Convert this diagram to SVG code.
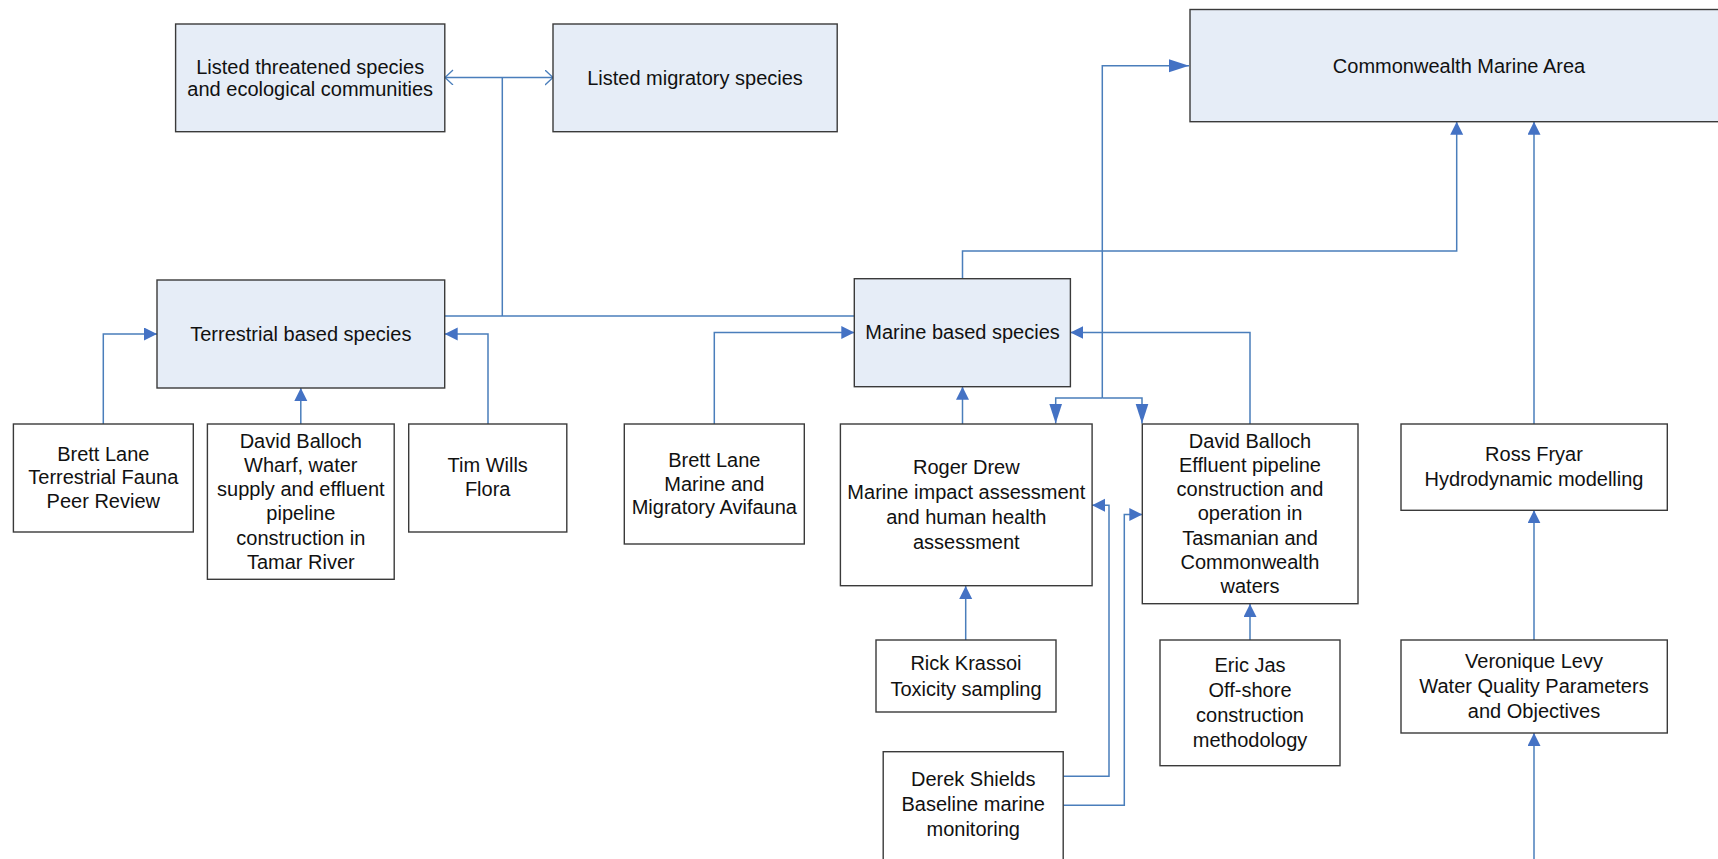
<svg xmlns="http://www.w3.org/2000/svg" width="1718" height="859" viewBox="0 0 1718 859">
<style>
.box{fill:#ffffff;stroke:#3a3a3a;stroke-width:1.4}
.hl{fill:#e6edf7;stroke:#3a3a3a;stroke-width:1.4}
text{font-family:"Liberation Sans",Arial,sans-serif;font-size:20px;fill:#111;text-anchor:middle}
.c{fill:none;stroke:#4a7ebb;stroke-width:1.5}
</style>
<defs>
<marker id="a" markerUnits="userSpaceOnUse" markerWidth="14" markerHeight="14" refX="13" refY="6.5" orient="auto"><path d="M0,0 L13,6.5 L0,13 z" fill="#4472c4"/></marker>
<marker id="b" markerUnits="userSpaceOnUse" markerWidth="21" markerHeight="14" refX="20" refY="6.5" orient="auto"><path d="M0,0 L20,6.5 L0,13 z" fill="#4472c4"/></marker>
<marker id="o" markerUnits="userSpaceOnUse" markerWidth="10" markerHeight="17" refX="8.5" refY="7.5" orient="auto-start-reverse"><path d="M0.5,0 L8.5,7.5 L0.5,15" fill="none" stroke="#4a7ebb" stroke-width="1.3"/></marker>
</defs>
<rect width="1718" height="859" fill="#ffffff"/>
<g id="connectors">
<path class="c" d="M445,77.5 H553" marker-start="url(#o)" marker-end="url(#o)"/>
<path class="c" d="M502.3,77.5 V316"/>
<path class="c" d="M444.7,316 H854.3"/>
<path class="c" d="M103.3,424 V334 H157" marker-end="url(#a)"/>
<path class="c" d="M488,424 V334 H444.7" marker-end="url(#a)"/>
<path class="c" d="M300.8,424 V388" marker-end="url(#a)"/>
<path class="c" d="M714.3,424 V332.5 H854.3" marker-end="url(#a)"/>
<path class="c" d="M962.5,424 V386.7" marker-end="url(#a)"/>
<path class="c" d="M962.5,278.7 V251 H1456.7 V121.7" marker-end="url(#a)"/>
<path class="c" d="M1102.3,398 V65.7 H1189" marker-end="url(#b)"/>
<path class="c" d="M1102.3,398 H1055.7 V423.5" marker-end="url(#b)"/>
<path class="c" d="M1102.3,398 H1142 V423.5" marker-end="url(#b)"/>
<path class="c" d="M1250,424 V332.5 H1070.4" marker-end="url(#a)"/>
<path class="c" d="M1250,640 V604" marker-end="url(#a)"/>
<path class="c" d="M965.7,640 V586" marker-end="url(#a)"/>
<path class="c" d="M1063.2,776.3 H1109 V505.3 H1092.1" marker-end="url(#a)"/>
<path class="c" d="M1063.2,805.3 H1124.3 V514.5 H1142.3" marker-end="url(#a)"/>
<path class="c" d="M1534,424 V121.7" marker-end="url(#a)"/>
<path class="c" d="M1534,640 V510.3" marker-end="url(#a)"/>
<path class="c" d="M1534,862 V733" marker-end="url(#a)"/>
</g>
<g id="threatened"><rect class="hl" x="175.6" y="24" width="269.2" height="107.7"/><text x="310.2" y="73.5">Listed threatened species</text><text x="310.2" y="96">and ecological communities</text></g>
<g id="migratory"><rect class="hl" x="553" y="24" width="284.2" height="107.7"/><text x="695" y="84.5">Listed migratory species</text></g>
<g id="cma"><rect class="hl" x="1190" y="9.5" width="540" height="112.2"/><text x="1459" y="72.7">Commonwealth Marine Area</text></g>
<g id="terrestrial"><rect class="hl" x="157" y="280" width="287.7" height="108"/><text x="300.8" y="341">Terrestrial based species</text></g>
<g id="marine"><rect class="hl" x="854.3" y="278.7" width="216.1" height="108"/><text x="962.5" y="339.3">Marine based species</text></g>
<g id="brett-terr"><rect class="box" x="13.4" y="424" width="179.9" height="108"/><text x="103.3" y="461">Brett Lane</text><text x="103.3" y="484.3">Terrestrial Fauna</text><text x="103.3" y="507.7">Peer Review</text></g>
<g id="balloch-wharf"><rect class="box" x="207.4" y="424" width="186.8" height="155.3"/><text x="300.8" y="448">David Balloch</text><text x="300.8" y="472">Wharf, water</text><text x="300.8" y="496">supply and effluent</text><text x="300.8" y="520.3">pipeline</text><text x="300.8" y="545">construction in</text><text x="300.8" y="569">Tamar River</text></g>
<g id="tim-wills"><rect class="box" x="408.7" y="424" width="158.1" height="108"/><text x="487.7" y="471.7">Tim Wills</text><text x="487.7" y="496.3">Flora</text></g>
<g id="brett-marine"><rect class="box" x="624.3" y="424" width="180" height="120"/><text x="714.3" y="467">Brett Lane</text><text x="714.3" y="490.5">Marine and</text><text x="714.3" y="514">Migratory Avifauna</text></g>
<g id="roger-drew"><rect class="box" x="840.4" y="424" width="251.7" height="161.7"/><text x="966.3" y="474.3">Roger Drew</text><text x="966.3" y="499">Marine impact assessment</text><text x="966.3" y="524.3">and human health</text><text x="966.3" y="548.7">assessment</text></g>
<g id="balloch-effluent"><rect class="box" x="1142.3" y="424" width="215.7" height="179.7"/><text x="1250" y="448">David Balloch</text><text x="1250" y="472">Effluent pipeline</text><text x="1250" y="495.7">construction and</text><text x="1250" y="520.3">operation in</text><text x="1250" y="544.7">Tasmanian and</text><text x="1250" y="569.3">Commonwealth</text><text x="1250" y="593">waters</text></g>
<g id="ross-fryar"><rect class="box" x="1401" y="424" width="266.3" height="86.3"/><text x="1534" y="461">Ross Fryar</text><text x="1534" y="486.3">Hydrodynamic modelling</text></g>
<g id="rick-krassoi"><rect class="box" x="876" y="640" width="180" height="72"/><text x="966" y="670.3">Rick Krassoi</text><text x="966" y="695.7">Toxicity sampling</text></g>
<g id="eric-jas"><rect class="box" x="1160" y="640" width="180" height="125.7"/><text x="1250" y="671.7">Eric Jas</text><text x="1250" y="697">Off-shore</text><text x="1250" y="722">construction</text><text x="1250" y="747">methodology</text></g>
<g id="veronique-levy"><rect class="box" x="1401" y="640" width="266.3" height="93"/><text x="1534" y="668">Veronique Levy</text><text x="1534" y="693">Water Quality Parameters</text><text x="1534" y="718">and Objectives</text></g>
<g id="derek-shields"><rect class="box" x="883.2" y="751.7" width="180" height="110"/><text x="973.2" y="786">Derek Shields</text><text x="973.2" y="811">Baseline marine</text><text x="973.2" y="836">monitoring</text></g>
</svg>
